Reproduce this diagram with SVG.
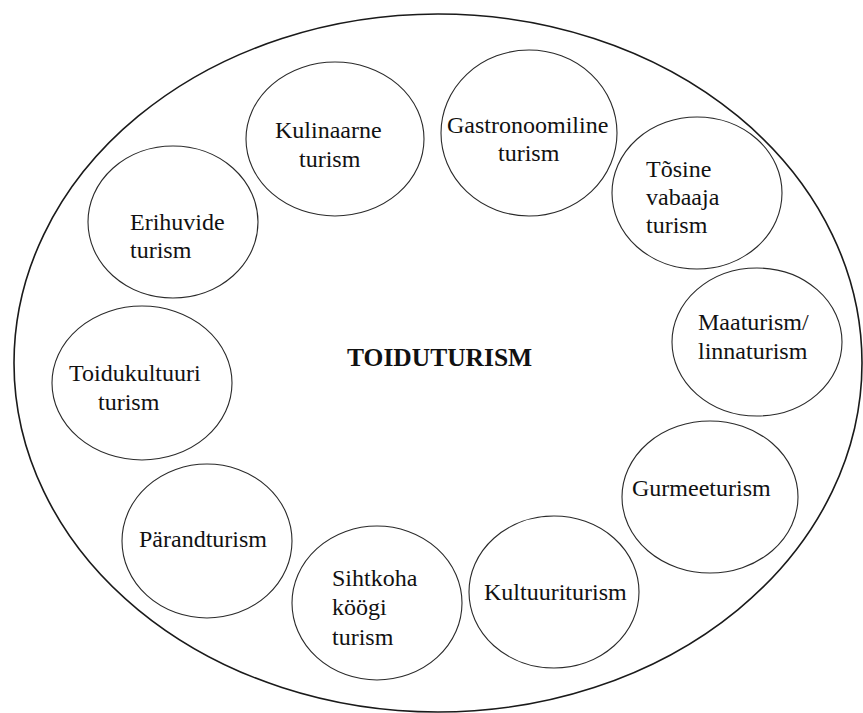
<svg xmlns="http://www.w3.org/2000/svg" width="863" height="713" viewBox="0 0 863 713">
<style>
.outer{fill:#fff;stroke:#1a1a1a;stroke-width:1.6}
.node{fill:#fff;stroke:#2a2a2a;stroke-width:1.1}
</style>
<rect width="863" height="713" fill="#fff"/>
<g font-family="Liberation Serif, Times New Roman, serif" font-size="24" fill="#111">
<g id="toiduturism">
<ellipse class="outer" cx="438" cy="363" rx="424" ry="349"/>
<text x="347" y="366" font-weight="bold" font-size="25.5">TOIDUTURISM</text>
</g>
<g id="connectors"></g>
<g id="kulinaarne">
<ellipse class="node" cx="335" cy="139" rx="89" ry="77"/>
<text x="275" y="138">Kulinaarne</text>
<text x="299" y="167">turism</text>
</g>
<g id="gastronoomiline">
<ellipse class="node" cx="529" cy="133" rx="88" ry="83"/>
<text x="447" y="133">Gastronoomiline</text>
<text x="498" y="161">turism</text>
</g>
<g id="tosine">
<ellipse class="node" cx="697" cy="193" rx="85" ry="76"/>
<text x="646" y="177">Tõsine</text>
<text x="646" y="205">vabaaja</text>
<text x="646" y="233">turism</text>
</g>
<g id="erihuvide">
<ellipse class="node" cx="173" cy="222" rx="85" ry="76"/>
<text x="130" y="230">Erihuvide</text>
<text x="130" y="258">turism</text>
</g>
<g id="maaturism">
<ellipse class="node" cx="757" cy="342" rx="85" ry="74"/>
<text x="698" y="330">Maaturism/</text>
<text x="698" y="359">linnaturism</text>
</g>
<g id="toidukultuuri">
<ellipse class="node" cx="142" cy="383" rx="90" ry="77"/>
<text x="69" y="381">Toidukultuuri</text>
<text x="98" y="410">turism</text>
</g>
<g id="parandturism">
<ellipse class="node" cx="207" cy="541" rx="85" ry="77"/>
<text x="139" y="547">Pärandturism</text>
</g>
<g id="sihtkoha">
<ellipse class="node" cx="377" cy="603" rx="85" ry="77"/>
<text x="332" y="586">Sihtkoha</text>
<text x="332" y="615">köögi</text>
<text x="332" y="645">turism</text>
</g>
<g id="kultuuriturism">
<ellipse class="node" cx="554" cy="592" rx="85" ry="76"/>
<text x="484" y="600">Kultuuriturism</text>
</g>
<g id="gurmeeturism">
<ellipse class="node" cx="710" cy="497" rx="88" ry="76"/>
<text x="632" y="496">Gurmeeturism</text>
</g>
</g>
</svg>
